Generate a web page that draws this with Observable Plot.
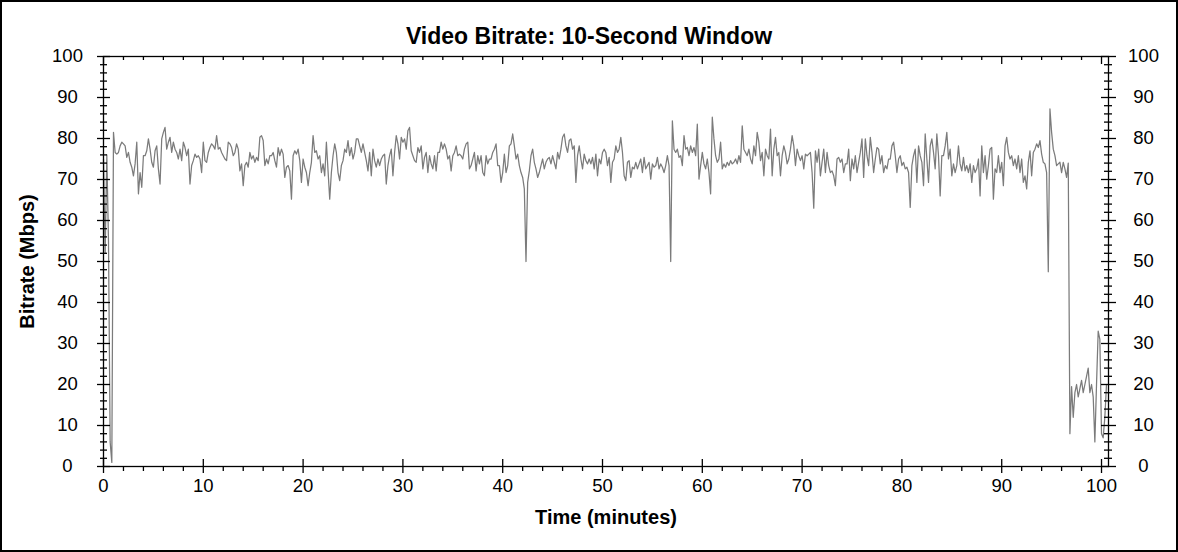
<!DOCTYPE html>
<html><head><meta charset="utf-8">
<script src="https://cdn.jsdelivr.net/npm/d3@7"></script>
<script src="https://cdn.jsdelivr.net/npm/@observablehq/plot@0.6"></script>
<style>
body{margin:0;background:#fff}
#chart svg{display:block;outline:2px solid #000;outline-offset:-2px}
</style>
</head><body><div id="chart"></div>
<script>
const titleText = "Video Bitrate: 10-Second Window";
const xLabel = "Time (minutes)";
const yLabel = "Bitrate (Mbps)";
const sampleStepMinutes = 1 / 6; // 10-second samples
const bitrate = [
75, 52, 76, 55, 6, 1,
81.5, 76.6, 76.2, 76.6, 78.2, 79.1, 78.7, 78.2, 75.4, 76.6,
74.2, 73.0, 70.9, 73.8, 79.1, 66.5, 71.7, 68.1, 75.8, 75.8,
77.0, 79.9, 77.4, 74.2, 73.0, 77.0, 78.2, 72.6, 68.9, 79.9,
81.5, 82.7, 77.4, 79.1, 80.3, 76.6, 79.1, 77.4, 76.6, 75.0,
77.4, 74.6, 79.1, 77.8, 75.8, 77.4, 68.9, 73.4, 74.6, 76.2,
75.4, 75.8, 75.0, 71.7, 79.1, 74.6, 74.2, 76.6, 77.8, 78.7,
78.2, 77.4, 80.7, 77.4, 77.8, 76.6, 75.8, 75.0, 74.6, 79.1,
78.7, 77.8, 75.8, 76.6, 78.7, 77.4, 72.1, 73.8, 68.5, 73.4,
74.2, 73.0, 76.6, 75.0, 75.8, 74.2, 75.4, 74.6, 80.3, 80.7,
79.5, 73.4, 75.0, 73.8, 75.8,
75.8, 76.6, 74.6, 73.0, 77.8, 75.8, 77.4, 76.2, 70.5, 73.0,
73.4, 72.1, 65.2, 75.8, 77.0, 76.2, 77.4, 74.6, 69.3, 75.0,
73.0, 71.7, 68.5, 71.7, 74.2, 80.7, 76.6, 77.0, 75.0, 75.8,
71.7, 73.8, 70.9, 79.1, 72.1, 65.2, 71.7, 75.8, 78.7, 76.6,
71.7, 69.7, 73.4, 74.6, 77.4, 76.6, 79.5, 75.8, 77.8, 75.0,
76.6, 79.9, 79.9, 78.2, 76.6, 78.7, 76.6, 74.6, 72.1, 76.6,
70.9, 77.4, 74.6, 73.0, 75.0, 73.4, 75.0, 75.8, 76.2, 68.9,
73.4, 75.8, 77.4, 70.9, 76.6, 80.7, 78.7, 75.0, 80.3, 79.1,
79.9, 77.4, 81.9, 82.7, 77.0, 75.8, 74.6, 74.2, 77.8, 76.6,
78.2, 72.6, 75.4, 76.6, 71.7, 75.8, 73.8, 72.6, 75.8, 72.1,
76.6,
76.6, 79.1, 77.4, 78.7, 77.4, 75.0, 75.8, 72.1, 75.8, 76.6,
78.2, 75.8, 76.2, 75.8, 75.0, 77.4, 78.7, 79.1, 72.6, 73.4,
75.0, 76.6, 72.1, 75.8, 73.8, 75.8, 71.7, 70.9, 75.8, 73.8,
75.0, 75.0, 76.6, 77.4, 78.7, 73.4, 73.4, 69.3, 71.7, 76.2,
71.7, 73.4, 78.2, 78.7, 81.1, 78.2, 75.0, 76.2, 73.4, 71.7,
70.5, 67.7, 50.0, 69.3, 72.1, 75.8, 77.4, 74.2, 72.6, 70.5,
71.7, 73.4, 75.0, 72.6, 74.2, 75.0, 75.4, 73.8, 75.8, 74.2,
72.6, 76.6, 75.0, 77.4, 80.3, 81.1, 78.2, 76.6, 79.5, 79.9,
77.4, 78.2, 69.3, 75.8, 78.2, 75.0, 72.6, 76.2, 74.6, 73.8,
75.0, 73.8, 75.4, 72.6, 76.2, 70.9, 75.0, 73.8, 76.6, 77.4,
76.6,
73.4, 75.4, 69.3, 74.2, 75.0, 78.2, 76.6, 77.4, 80.3, 76.6,
70.9, 69.7, 74.2, 74.6, 70.5, 73.0, 72.6, 74.2, 72.6, 73.8,
75.0, 71.7, 75.4, 72.6, 73.4, 74.2, 70.1, 73.8, 73.0, 73.4,
75.4, 72.6, 73.8, 73.0, 71.7, 73.4, 75.8, 73.4, 50.0, 84.3,
77.4, 76.6, 77.4, 75.4, 75.8, 73.4, 80.7, 77.4, 77.8, 75.8,
78.2, 76.6, 77.8, 75.8, 83.5, 70.1, 73.4, 76.6, 73.8, 72.6,
75.0, 71.7, 66.5, 85.2, 79.9, 75.8, 74.2, 75.0, 79.1, 72.6,
73.8, 73.0, 74.2, 73.4, 74.6, 73.8, 74.2, 75.0, 73.8, 75.8,
74.2, 83.1, 77.4, 76.6, 75.8, 77.4, 75.0, 73.8, 78.2, 75.8,
81.5, 79.1, 74.6, 76.6, 70.9, 77.4, 75.8, 75.0, 82.3, 70.9,
77.4,
80.3, 75.8, 76.6, 70.9, 75.8, 78.2, 76.6, 73.8, 75.0, 77.4,
80.7, 78.2, 73.4, 77.4, 75.8, 74.6, 75.8, 72.6, 76.2, 75.8,
76.2, 76.6, 71.7, 63.0, 77.0, 74.2, 77.4, 70.9, 74.2, 77.4,
71.7, 76.6, 73.4, 71.7, 72.1, 70.9, 68.5, 75.0, 75.4, 74.2,
75.0, 71.7, 73.8, 73.8, 77.4, 69.7, 75.0, 72.6, 75.8, 71.7,
74.2, 76.6, 79.9, 70.5, 79.9, 75.8, 73.4, 80.3, 76.6, 71.7,
75.0, 77.8, 77.4, 73.8, 75.8, 71.7, 73.4, 72.6, 75.0, 75.0,
78.2, 79.1, 75.8, 71.7, 75.0, 75.8, 73.4, 74.2, 72.6, 73.0,
71.7, 63.2, 73.4, 75.8, 77.4, 69.3, 78.2, 75.8, 74.2, 68.5,
81.1, 75.0, 69.3, 78.2, 79.9, 76.6, 72.6, 81.1, 75.8, 66.0,
75.8,
75.8, 78.2, 81.5, 75.0, 77.4, 70.9, 73.8, 71.7, 73.4, 78.2,
73.8, 72.1, 75.4, 72.1, 73.4, 71.7, 73.8, 69.3, 73.4, 71.7,
72.6, 75.0, 66.0, 78.2, 71.7, 75.8, 70.1, 73.4, 77.4, 77.8,
65.2, 72.6, 71.7, 75.8, 71.7, 74.2, 68.5, 78.2, 80.3, 76.6,
75.0, 75.8, 73.4, 75.0, 72.6, 75.8, 71.7, 75.0, 69.3, 70.9,
67.7, 74.2, 77.0, 70.9, 76.6, 77.4, 78.7, 77.8, 79.5, 76.2,
74.2, 73.8, 71.7, 47.5, 87.2, 81.5, 77.4, 75.8, 73.4, 73.8,
74.2, 71.7, 74.2, 72.6, 70.5,
74.0, 8.0, 19.5, 12.0, 18, 20, 17, 19, 21, 18,
20, 22, 24, 18, 20, 17, 6, 20, 33, 31,
8, 7, 12, 20
];
const xTicks = [0, 10, 20, 30, 40, 50, 60, 70, 80, 90, 100];
const xMinorTicks = [2, 4, 6, 8, 12, 14, 16, 18, 22, 24, 26, 28, 32, 34, 36, 38, 42, 44, 46, 48, 52, 54, 56, 58, 62, 64, 66, 68, 72, 74, 76, 78, 82, 84, 86, 88, 92, 94, 96, 98];
const yTicks = [0, 10, 20, 30, 40, 50, 60, 70, 80, 90, 100];
const yMinorTicks = [2, 4, 6, 8, 12, 14, 16, 18, 22, 24, 26, 28, 32, 34, 36, 38, 42, 44, 46, 48, 52, 54, 56, 58, 62, 64, 66, 68, 72, 74, 76, 78, 82, 84, 86, 88, 92, 94, 96, 98];

const data = bitrate.map((v, i) => ({t: i * sampleStepMinutes, v}));

const W = 1178, H = 552, mL = 103, mR = 70, mT = 56, mB = 86;
const fw = W - mL - mR, fh = H - mT - mB;
const font = "'Liberation Sans', Arial, sans-serif";

const chart = Plot.plot({
  width: W, height: H,
  marginLeft: mL, marginRight: mR, marginTop: mT, marginBottom: mB,
  style: {fontFamily: font, background: "#fff", color: "#000"},
  x: {domain: [0, 100.7], axis: null},
  y: {domain: [0, 100], axis: null},
  marks: [
    Plot.line(data, {x: "t", y: "v", stroke: "#7b7b7b", strokeWidth: 1.25}),
    Plot.frame({stroke: "#000", strokeWidth: 1.3}),
    // left axis ticks
    Plot.tickY(yTicks, {y: d => d, insetLeft: -6, insetRight: fw - 7, stroke: "#000", strokeWidth: 1.3}),
    Plot.tickY(yMinorTicks, {y: d => d, insetLeft: -3, insetRight: fw - 4, stroke: "#000", strokeWidth: 1.3}),
    // right axis ticks
    Plot.tickY(yTicks, {y: d => d, insetLeft: fw - 7, insetRight: -8, stroke: "#000", strokeWidth: 1.3}),
    Plot.tickY(yMinorTicks, {y: d => d, insetLeft: fw - 4, insetRight: -4, stroke: "#000", strokeWidth: 1.3}),
    // bottom axis ticks
    Plot.tickX(xTicks, {x: d => d, insetTop: fh - 7, insetBottom: -7, stroke: "#000", strokeWidth: 1.3}),
    Plot.tickX(xMinorTicks, {x: d => d, insetTop: fh, insetBottom: -5, stroke: "#000", strokeWidth: 1.3}),
    // top axis ticks (inward)
    Plot.tickX(xTicks, {x: d => d, insetTop: 0, insetBottom: fh - 8, stroke: "#000", strokeWidth: 1.3}),
    Plot.tickX(xMinorTicks, {x: d => d, insetTop: 0, insetBottom: fh - 4, stroke: "#000", strokeWidth: 1.3}),
    // tick labels
    Plot.text(yTicks, {y: d => d, text: d => String(d), frameAnchor: "left", dx: -36, textAnchor: "middle", fontSize: 18.5, fill: "#000"}),
    Plot.text(yTicks, {y: d => d, text: d => String(d), frameAnchor: "right", dx: 35, textAnchor: "middle", fontSize: 18.5, fill: "#000"}),
    Plot.text(xTicks, {x: d => d, text: d => String(d), frameAnchor: "bottom", dy: 25, textAnchor: "middle", fontSize: 18.5, fill: "#000"}),
    // titles
    Plot.text([titleText], {frameAnchor: "top", dy: -29, dx: -17, textAnchor: "middle", fontSize: 23, fontWeight: "bold", fill: "#000"}),
    Plot.text([xLabel], {frameAnchor: "bottom", dy: 57, textAnchor: "middle", fontSize: 20, fontWeight: "bold", fill: "#000"}),
    Plot.text([yLabel], {frameAnchor: "left", dx: -76, rotate: -90, textAnchor: "middle", fontSize: 20, fontWeight: "bold", fill: "#000"})
  ]
});
document.getElementById("chart").append(chart);
</script>
</body></html>
